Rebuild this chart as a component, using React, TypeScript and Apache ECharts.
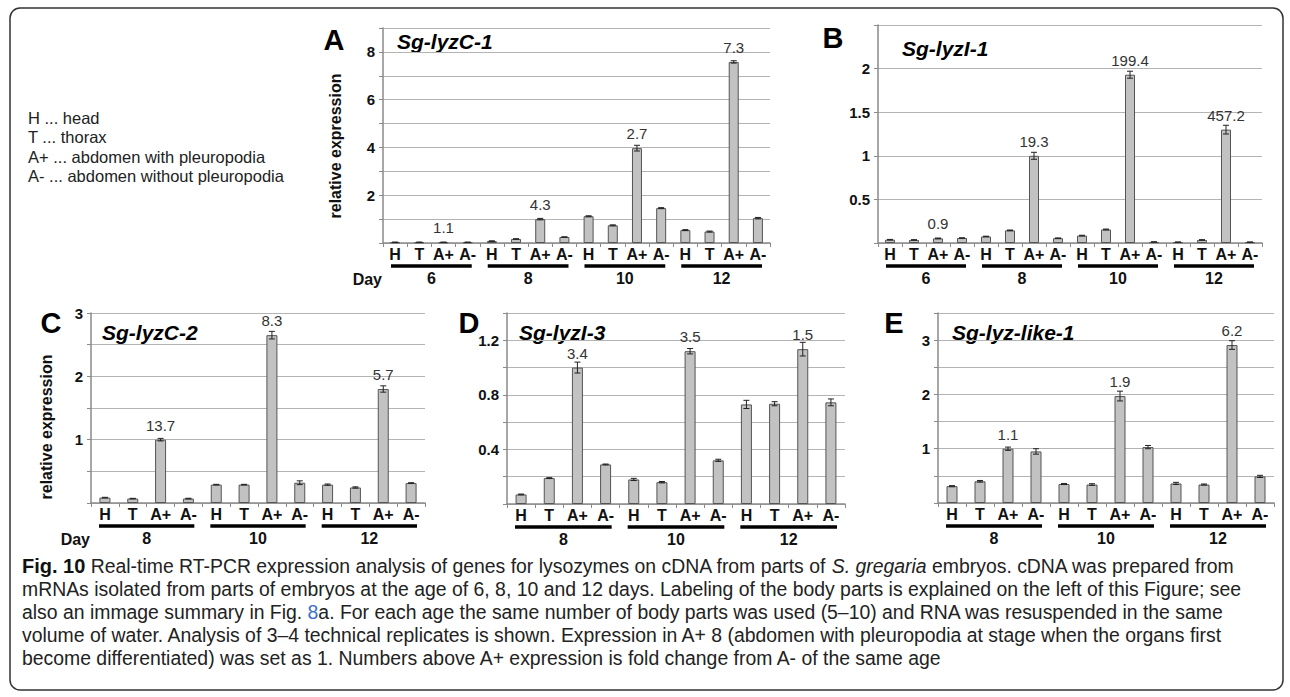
import React, { useEffect, useRef } from "react";
import * as echarts from "echarts";

// ---------------- DATA ----------------
const partLabels = ["H", "T", "A+", "A-"];
const daysAB = ["6", "8", "10", "12"];
const daysCDE = ["8", "10", "12"];

const valuesA = [0.03, 0.03, 0.03, 0.03, 0.08, 0.17, 1.0, 0.25, 1.12, 0.74, 3.97, 1.46, 0.54, 0.48, 7.58, 1.04];
const errA = [0.01, 0.01, 0.01, 0.01, 0.01, 0.01, 0.03, 0.01, 0.02, 0.02, 0.12, 0.02, 0.02, 0.02, 0.05, 0.03];
const foldA = ["1.1", "4.3", "2.7", "7.3"];
const yLabelsA = [2, 4, 6, 8];

const valuesB = [0.038, 0.035, 0.053, 0.057, 0.075, 0.145, 1.0, 0.055, 0.085, 0.155, 1.93, 0.012, 0.01, 0.035, 1.3, 0.01];
const errB = [0.003, 0.003, 0.004, 0.003, 0.003, 0.004, 0.04, 0.003, 0.004, 0.005, 0.04, 0.002, 0.002, 0.003, 0.05, 0.002];
const foldB = ["0.9", "19.3", "199.4", "457.2"];
const yLabelsB = [0.5, 1, 1.5, 2];

const valuesC = [0.085, 0.07, 1.0, 0.07, 0.29, 0.29, 2.65, 0.32, 0.29, 0.245, 1.8, 0.315];
const errC = [0.005, 0.004, 0.02, 0.005, 0.005, 0.005, 0.06, 0.03, 0.01, 0.01, 0.05, 0.005];
const foldC = ["13.7", "8.3", "5.7"];
const yLabelsC = [1, 2, 3];

const valuesD = [0.07, 0.19, 1.0, 0.29, 0.18, 0.16, 1.12, 0.32, 0.73, 0.735, 1.135, 0.745];
const errD = [0.003, 0.003, 0.04, 0.003, 0.008, 0.005, 0.02, 0.008, 0.03, 0.015, 0.05, 0.025];
const foldD = ["3.4", "3.5", "1.5"];
const yLabelsD = [0.4, 0.8, 1.2];

const valuesE = [0.31, 0.4, 1.0, 0.95, 0.35, 0.34, 1.97, 1.03, 0.36, 0.34, 2.91, 0.49];
const errE = [0.01, 0.015, 0.03, 0.05, 0.01, 0.015, 0.09, 0.03, 0.02, 0.01, 0.08, 0.02];
const foldE = ["1.1", "1.9", "6.2"];
const yLabelsE = [1, 2, 3];

const legendLines = [
  "H ... head",
  "T ... thorax",
  "A+ ... abdomen with pleuropodia",
  "A- ... abdomen without pleuropodia",
];

const captionLines = [
  "{b|Fig. 10} Real-time RT-PCR expression analysis of genes for lysozymes on cDNA from parts of {i|S. gregaria} embryos. cDNA was prepared from",
  "mRNAs isolated from parts of embryos at the age of 6, 8, 10 and 12 days. Labeling of the body parts is explained on the left of this Figure; see",
  "also an immage summary in Fig. {l|8}a. For each age the same number of body parts was used (5–10) and RNA was resuspended in the same",
  "volume of water. Analysis of 3–4 technical replicates is shown. Expression in A+ 8 (abdomen with pleuropodia at stage when the organs first",
  "become differentiated) was set as 1. Numbers above A+ expression is fold change from A- of the same age",
];

// ---------------- LAYOUT ----------------
const FONT = '"Liberation Sans", Arial, Helvetica, sans-serif';

const panels = [
  { letter: "A", title: "Sg-lyzC-1", values: valuesA, errs: errA, folds: foldA, days: daysAB, yMax: 9, yInt: 1, yLabels: yLabelsA,
    grid: { left: 383, top: 28, width: 387, height: 215 }, barWidth: 10,
    letterPos: [334, 40], titlePos: [397, 41], yTitle: [335, 146], day: true },
  { letter: "B", title: "Sg-lyzI-1", values: valuesB, errs: errB, folds: foldB, days: daysAB, yMax: 2.5, yInt: 0.5, yLabels: yLabelsB,
    grid: { left: 878, top: 25, width: 384, height: 218 }, barWidth: 10,
    letterPos: [833, 38], titlePos: [902, 48], yTitle: null, day: false },
  { letter: "C", title: "Sg-lyzC-2", values: valuesC, errs: errC, folds: foldC, days: daysCDE, yMax: 3, yInt: 0.5, yLabels: yLabelsC,
    grid: { left: 91, top: 313, width: 334, height: 190 }, barWidth: 11,
    letterPos: [51, 323], titlePos: [102, 332], yTitle: [46, 427], day: true },
  { letter: "D", title: "Sg-lyzI-3", values: valuesD, errs: errD, folds: foldD, days: daysCDE, yMax: 1.4, yInt: 0.2, yLabels: yLabelsD,
    grid: { left: 507, top: 313, width: 338, height: 191 }, barWidth: 11,
    letterPos: [469, 323], titlePos: [519, 332], yTitle: null, day: false },
  { letter: "E", title: "Sg-lyz-like-1", values: valuesE, errs: errE, folds: foldE, days: daysCDE, yMax: 3.5, yInt: 0.5, yLabels: yLabelsE,
    grid: { left: 938, top: 313, width: 336, height: 190 }, barWidth: 11,
    letterPos: [894, 323], titlePos: [952, 332], yTitle: null, day: false },
];

function buildOption() {
  const grid: any[] = [];
  const xAxis: any[] = [];
  const yAxis: any[] = [];
  const series: any[] = [];
  const graphic: any[] = [];

  panels.forEach((p, i) => {
    grid.push({ ...p.grid, containLabel: false });
    const cats: string[] = [];
    p.days.forEach(() => partLabels.forEach((l) => cats.push(l)));
    xAxis.push({
      type: "category",
      gridIndex: i,
      data: cats,
      axisLine: { lineStyle: { color: "#8a8a8a", width: 1.5 } },
      axisTick: { show: true, length: 4, lineStyle: { color: "#8a8a8a" } },
      axisLabel: { interval: 0, margin: 3, fontFamily: FONT, fontWeight: "bold", fontSize: 16, color: "#111" },
      splitLine: { show: false },
    });
    const shown = p.yLabels;
    yAxis.push({
      type: "value",
      gridIndex: i,
      min: 0,
      max: p.yMax,
      interval: p.yInt,
      axisLine: { show: true, lineStyle: { color: "#8a8a8a", width: 1.5 } },
      axisTick: { show: true, length: 4, lineStyle: { color: "#8a8a8a" } },
      axisLabel: {
        margin: 8,
        fontFamily: FONT,
        fontWeight: "bold",
        fontSize: 15,
        color: "#111",
        formatter: (v: number) => (shown.some((s) => Math.abs(s - v) < 1e-9) ? String(+v.toFixed(2)) : ""),
      },
      splitLine: { show: true, lineStyle: { color: "#b4b4b4", width: 1 } },
    });

    series.push({
      type: "bar",
      xAxisIndex: i,
      yAxisIndex: i,
      barWidth: p.barWidth,
      itemStyle: { color: "#c2c2c2", borderColor: "#555", borderWidth: 1 },
      label: { show: false, position: "top", distance: 7, fontFamily: FONT, fontSize: 15, color: "#333" },
      data: p.values.map((v, j) =>
        j % 4 === 2 ? { value: v, label: { show: true, formatter: p.folds[Math.floor(j / 4)] } } : v
      ),
      z: 2,
    });

    const errs = p.errs;
    series.push({
      type: "custom",
      xAxisIndex: i,
      yAxisIndex: i,
      z: 4,
      encode: { x: 0, y: 1 },
      data: p.values.map((v, j) => [j, v, errs[j]]),
      renderItem: (params: any, api: any) => {
        const x = api.value(0);
        const v = api.value(1);
        const e = api.value(2);
        const top = api.coord([x, v + e]);
        const bot = api.coord([x, Math.max(0, v - e)]);
        const hw = 3;
        const st = { stroke: "#222", lineWidth: 1 };
        return {
          type: "group",
          children: [
            { type: "line", shape: { x1: top[0], y1: top[1], x2: bot[0], y2: bot[1] }, style: st },
            { type: "line", shape: { x1: top[0] - hw, y1: top[1], x2: top[0] + hw, y2: top[1] }, style: st },
            { type: "line", shape: { x1: bot[0] - hw, y1: bot[1], x2: bot[0] + hw, y2: bot[1] }, style: st },
          ],
        };
      },
    });

    const dayList = p.days;
    series.push({
      type: "custom",
      xAxisIndex: i,
      yAxisIndex: i,
      clip: false,
      silent: true,
      encode: { x: 0 },
      data: dayList.map((_, k) => [k * 4, 0]),
      renderItem: (params: any, api: any) => {
        const start = api.value(0);
        const p0 = api.coord([start, 0]);
        const p1 = api.coord([start + 3, 0]);
        const bw = api.size([1, 0])[0];
        const inset = 8;
        const x1 = p0[0] - bw / 2 + inset;
        const x2 = p1[0] + bw / 2 - inset;
        return {
          type: "group",
          children: [
            { type: "line", shape: { x1, y1: p0[1] + 23, x2, y2: p0[1] + 23 }, style: { stroke: "#000", lineWidth: 3.5 } },
            {
              type: "text",
              style: {
                x: (x1 + x2) / 2,
                y: p0[1] + 35,
                text: dayList[params.dataIndex],
                align: "center",
                verticalAlign: "middle",
                fontFamily: FONT,
                fontWeight: "bold",
                fontSize: 16,
                fill: "#111",
              },
            },
          ],
        };
      },
    });

    graphic.push({
      type: "text",
      x: p.letterPos[0],
      y: p.letterPos[1],
      style: { text: p.letter, fontFamily: FONT, fontWeight: "bold", fontSize: 29, fill: "#000", align: "center", verticalAlign: "middle" },
    });
    graphic.push({
      type: "text",
      x: p.titlePos[0],
      y: p.titlePos[1],
      style: { text: p.title, fontFamily: FONT, fontWeight: "bold", fontStyle: "italic", fontSize: 21, fill: "#000", align: "left", verticalAlign: "middle" },
    });
    if (p.yTitle) {
      graphic.push({
        type: "text",
        x: p.yTitle[0],
        y: p.yTitle[1],
        rotation: Math.PI / 2,
        style: { text: "relative expression", fontFamily: FONT, fontWeight: "bold", fontSize: 16, fill: "#111", align: "center", verticalAlign: "middle" },
      });
    }
    if (p.day) {
      graphic.push({
        type: "text",
        x: p.grid.left - 1,
        y: p.grid.top + p.grid.height + 36,
        style: { text: "Day", fontFamily: FONT, fontWeight: "bold", fontSize: 16, fill: "#111", align: "right", verticalAlign: "middle" },
      });
    }
  });

  legendLines.forEach((t, k) => {
    graphic.push({
      type: "text",
      x: 28,
      y: 118 + k * 19.4,
      style: { text: t, fontFamily: FONT, fontSize: 16.5, fill: "#222", align: "left", verticalAlign: "middle" },
    });
  });

  const capFont = 19.4;
  captionLines.forEach((t, k) => {
    graphic.push({
      type: "text",
      x: 22,
      y: 566 + k * 23,
      style: {
        text: t,
        fontFamily: FONT,
        fontSize: capFont,
        fill: "#222",
        align: "left",
        verticalAlign: "middle",
        rich: {
          b: { fontFamily: FONT, fontSize: capFont + 0.6, fontWeight: "bold", fill: "#111" },
          i: { fontFamily: FONT, fontSize: capFont, fontStyle: "italic", fill: "#222" },
          l: { fontFamily: FONT, fontSize: capFont, fill: "#3b6fc9" },
        },
      },
    });
  });

  graphic.push({
    type: "rect",
    shape: { x: 10, y: 8, width: 1273, height: 682, r: 10 },
    style: { fill: "none", stroke: "#333", lineWidth: 1.5 },
    z: -1,
  });

  return { animation: false, backgroundColor: "#fff", grid, xAxis, yAxis, series, graphic };
}

export default function App() {
  const ref = useRef<HTMLDivElement>(null);
  useEffect(() => {
    document.body.style.margin = "0";
    if (!ref.current) return;
    const chart = echarts.init(ref.current, null, { renderer: "svg" });
    chart.setOption(buildOption() as any);
    return () => chart.dispose();
  }, []);
  return <div ref={ref} style={{ width: 1290, height: 697 }} />;
}
